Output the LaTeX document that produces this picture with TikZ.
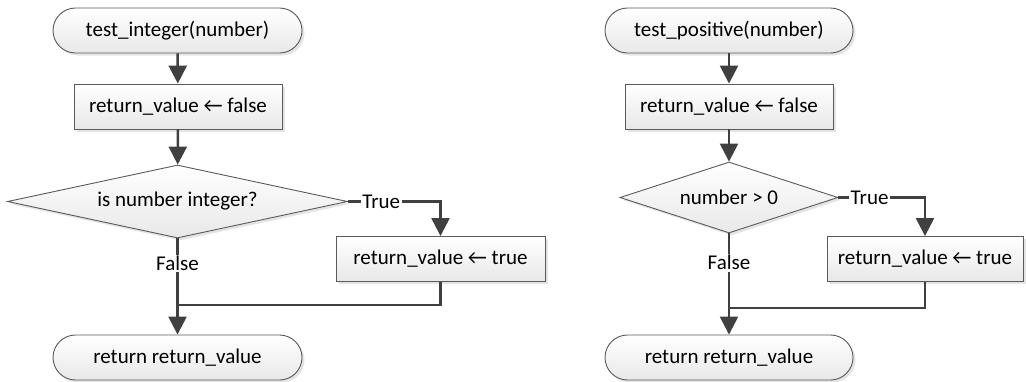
\documentclass[tikz,border=0pt]{standalone}
\usepackage{fontspec}
\setmainfont{Carlito}
\usetikzlibrary{shapes.geometric,arrows.meta,shadows}
\definecolor{linec}{HTML}{404040}
\definecolor{borderc}{HTML}{5A5A5A}
\begin{document}
\begin{tikzpicture}[x=1pt,y=-1pt,
  font=\fontsize{21}{25}\selectfont,
  shp/.style={draw=borderc,line width=0.9pt,top color=white,bottom color=black!9,
    drop shadow={shadow xshift=2.5pt,shadow yshift=-2.5pt,opacity=0.3,fill=black!35},inner sep=0pt},
  term/.style={shp,rectangle,rounded corners=22.5pt,minimum height=45pt},
  proc/.style={shp,rectangle,minimum height=45pt},
  dec/.style={shp,diamond},
  flow/.style={draw=linec,line width=2.5pt,-{Triangle[length=18pt,width=18pt]}},
  seg/.style={draw=linec,line width=2.5pt},
  lbl/.style={fill=white,inner sep=1.5pt}
]
\useasboundingbox (0,0) rectangle (1026,381);

% ---- left flowchart ----
\node[term,minimum width=249pt] (t1) at (177.5,30.5) {test\_integer(number)};
\node[proc,minimum width=208pt] (b1) at (178,106.5) {return\_value ← false};
\node[dec,minimum width=340pt,minimum height=73pt,aspect=4.6] (d1) at (177.5,201.5) {is number integer?};
\node[proc,minimum width=209pt] (b2) at (440.5,259) {return\_value ← true};
\node[term,minimum width=249pt] (t2) at (177.5,357.5) {return return\_value};
\coordinate (m1) at (177.5,305);

\draw[flow] (t1) -- (b1);
\draw[flow] (b1) -- (d1);
\draw[flow] (d1.east) -| node[lbl,pos=0.18] {True} (b2.north);
\draw[flow] (d1.south) -- node[lbl,pos=0.26] {False} (t2.north);
\draw[seg] (b2.south) |- (m1);

% ---- right flowchart ----
\node[term,minimum width=248pt] (t3) at (729,30.5) {test\_positive(number)};
\node[proc,minimum width=208pt] (b3) at (729,106.5) {return\_value ← false};
\node[dec,minimum width=218pt,minimum height=71pt,aspect=3.07] (d2) at (729,197.5) {number > 0};
\node[proc,minimum width=196pt] (b4) at (925,259) {return\_value ← true};
\node[term,minimum width=248pt] (t4) at (729,357.5) {return return\_value};
\coordinate (m2) at (729,308);

\draw[flow] (t3) -- (b3);
\draw[flow] (b3) -- (d2);
\draw[flow] (d2.east) -| node[lbl,pos=0.18] {True} (b4.north);
\draw[flow] (d2.south) -- node[lbl,pos=0.29] {False} (t4.north);
\draw[seg] (b4.south) |- (m2);
\end{tikzpicture}
\end{document}
